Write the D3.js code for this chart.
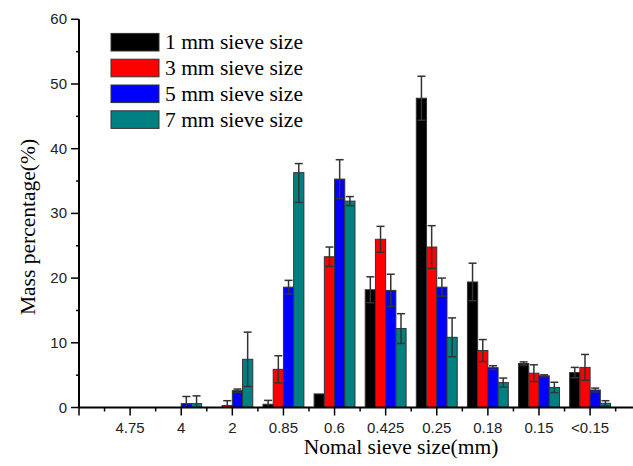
<!DOCTYPE html>
<html>
<head>
<meta charset="utf-8">
<script src="https://cdn.jsdelivr.net/npm/d3@7"></script>
<style>
  body { margin: 0; background: #fff; }
  svg { display: block; }
</style>
</head>
<body>
<svg id="chart" width="633" height="466"></svg>
<script>
// sieve sizes (mm) along the x axis
const categories = ["4.75", "4", "2", "0.85", "0.6", "0.425", "0.25", "0.18", "0.15", "<0.15"]
const seriesNames = ["1 mm sieve size", "3 mm sieve size", "5 mm sieve size", "7 mm sieve size"]
const seriesColors = ["#000000", "#ff0000", "#0000ff", "#008080"]

// mass percentage per series
const mm1 = [0, 0, 0, 0.5, 2.1, 18.2, 47.8, 19.4, 6.8, 5.4]
const mm3 = [0, 0, 0.3, 5.9, 23.3, 26.0, 24.8, 8.8, 5.3, 6.2]
const mm5 = [0, 0.6, 2.6, 18.6, 35.3, 18.1, 18.6, 6.15, 4.9, 2.7]
const mm7 = [0, 0.6, 7.45, 36.3, 31.9, 12.2, 10.85, 3.85, 3.1, 0.65]

// error bars (upper / lower)
const mm1Err = [0, 0, 0, 0.6, 0, 2.0, 3.4, 2.9, 0.25, 0.8]
const mm3Err = [0, 0, 0.75, 2.1, 1.5, 2.0, 3.3, 1.7, 1.3, 2.0]
const mm5Err = [0, 1.1, 0.25, 1.05, 3.0, 2.5, 1.4, 0.3, 0.15, 0.3]
const mm7Err = [0, 1.2, 4.2, 1.4, 0.7, 2.3, 3.0, 0.7, 0.8, 0.4]
const mm7ErrLow = [0, 1.2, 4.2, 4.6, 0.7, 2.3, 3.0, 0.7, 0.8, 0.4]

const yTicks = [0, 10, 20, 30, 40, 50, 60]

const series = [
  {values: mm1, up: mm1Err, low: mm1Err},
  {values: mm3, up: mm3Err, low: mm3Err},
  {values: mm5, up: mm5Err, low: mm5Err},
  {values: mm7, up: mm7Err, low: mm7ErrLow}
]

const svg = d3.select("#chart")
const margin = {left: 79, top: 19.3, bottom: 407.5}
const unit = 51.11

const x = d3.scaleLinear().domain([0, 11]).range([margin.left, margin.left + 11 * unit])
const y = d3.scaleLinear().domain([0, 60]).range([margin.bottom, margin.top])

const barW = 0.2

// bars
const bars = []
series.forEach((s, si) => {
  s.values.forEach((v, ci) => {
    if (v > 0) bars.push({si: si, ci: ci, v: v, up: s.up[ci], low: s.low[ci]})
  })
})

const barX = d => x(d.ci + 1 - 0.4 + d.si * barW)

svg.append("g").selectAll("rect")
  .data(bars)
  .enter().append("rect")
  .attr("x", barX)
  .attr("width", x(barW) - x(0))
  .attr("y", d => y(d.v))
  .attr("height", d => y(0) - y(d.v))
  .attr("fill", d => seriesColors[d.si])
  .attr("stroke", "#333")
  .attr("stroke-width", 1)

// error bars
const errs = svg.append("g")
  .attr("stroke", "#333")
  .attr("stroke-width", 1.5)
  .selectAll("g")
  .data(bars.filter(d => d.up > 0))
  .enter().append("g")

const cx = d => barX(d) + (x(barW) - x(0)) / 2
errs.append("line")
  .attr("x1", cx).attr("x2", cx)
  .attr("y1", d => y(Math.max(0, d.v - d.low)))
  .attr("y2", d => y(d.v + d.up))
errs.append("line")
  .attr("x1", d => cx(d) - 4).attr("x2", d => cx(d) + 4)
  .attr("y1", d => y(d.v + d.up)).attr("y2", d => y(d.v + d.up))
errs.filter(d => d.v - d.low > 0.2).append("line")
  .attr("x1", d => cx(d) - 4).attr("x2", d => cx(d) + 4)
  .attr("y1", d => y(d.v - d.low)).attr("y2", d => y(d.v - d.low))

// x axis
const xMajor = d3.range(0, 11)
const xMinor = d3.range(0.5, 11, 1)
const xAxisG = svg.append("g").attr("transform", "translate(0," + margin.bottom + ")")
xAxisG.append("line")
  .attr("x1", margin.left).attr("x2", margin.left + 11 * unit)
  .attr("stroke", "#000").attr("stroke-width", 2)
xAxisG.selectAll(".maj").data(xMajor).enter().append("line")
  .attr("x1", d => x(d)).attr("x2", d => x(d))
  .attr("y1", 0).attr("y2", 8)
  .attr("stroke", "#000").attr("stroke-width", 1.5)
xAxisG.selectAll(".min").data(xMinor).enter().append("line")
  .attr("x1", d => x(d)).attr("x2", d => x(d))
  .attr("y1", 0).attr("y2", 4)
  .attr("stroke", "#000").attr("stroke-width", 1.5)
xAxisG.selectAll("text").data(categories).enter().append("text")
  .attr("x", (d, i) => x(i + 1))
  .attr("y", 25)
  .attr("text-anchor", "middle")
  .attr("font-family", "Liberation Sans, Arial, sans-serif")
  .attr("font-size", 15)
  .attr("fill", "#222")
  .text(d => d)

// y axis
const yMinor = d3.range(5, 60, 10)
const yAxisG = svg.append("g")
yAxisG.append("line")
  .attr("x1", margin.left).attr("x2", margin.left)
  .attr("y1", y(60)).attr("y2", y(0))
  .attr("stroke", "#000").attr("stroke-width", 2)
yAxisG.selectAll(".maj").data(yTicks).enter().append("line")
  .attr("x1", margin.left - 8).attr("x2", margin.left)
  .attr("y1", d => y(d)).attr("y2", d => y(d))
  .attr("stroke", "#000").attr("stroke-width", 1.5)
yAxisG.selectAll(".min").data(yMinor).enter().append("line")
  .attr("x1", margin.left - 3).attr("x2", margin.left)
  .attr("y1", d => y(d)).attr("y2", d => y(d))
  .attr("stroke", "#000").attr("stroke-width", 1.5)
yAxisG.selectAll("text").data(yTicks).enter().append("text")
  .attr("x", margin.left - 12)
  .attr("y", d => y(d) + 5)
  .attr("text-anchor", "end")
  .attr("font-family", "Liberation Sans, Arial, sans-serif")
  .attr("font-size", 15)
  .attr("fill", "#222")
  .text(d => d)

// axis titles
svg.append("text")
  .attr("x", 401).attr("y", 454)
  .attr("text-anchor", "middle")
  .attr("font-family", "Liberation Serif, Times New Roman, serif")
  .attr("font-size", 21.5)
  .text("Nomal sieve size(mm)")

svg.append("text")
  .attr("transform", "translate(35,227) rotate(-90)")
  .attr("text-anchor", "middle")
  .attr("font-family", "Liberation Serif, Times New Roman, serif")
  .attr("font-size", 21.5)
  .text("Mass percentage(%)")

// legend
const legend = svg.append("g").selectAll("g")
  .data(seriesNames)
  .enter().append("g")
  .attr("transform", (d, i) => "translate(111," + (42.2 + i * 25.8) + ")")
legend.append("rect")
  .attr("x", 0).attr("y", -8.8)
  .attr("width", 48).attr("height", 17.6)
  .attr("fill", (d, i) => seriesColors[i])
  .attr("stroke", "#333").attr("stroke-width", 1)
legend.append("text")
  .attr("x", 54).attr("y", 7)
  .attr("font-family", "Liberation Serif, Times New Roman, serif")
  .attr("font-size", 21.5)
  .text(d => d)
</script>
</body>
</html>
